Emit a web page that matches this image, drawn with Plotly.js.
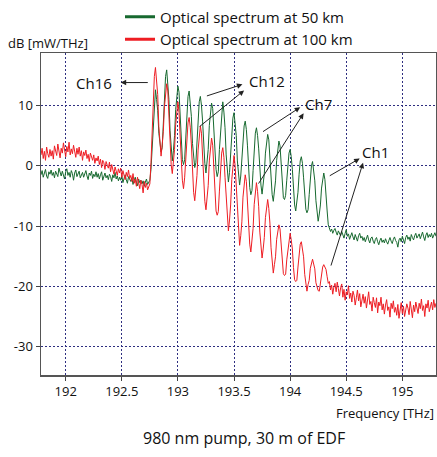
<!DOCTYPE html>
<html>
<head>
<meta charset="utf-8">
<script src="https://cdn.plot.ly/plotly-3.0.1.min.js"></script>
<style>
html,body{margin:0;padding:0;background:#fff;}
#chart{width:437px;height:457px;}
</style>
</head>
<body>
<div id="chart"></div>
<script>
// Frequency sampling of the spectra (THz)
const freqStart = 191.78;
const freqStep = 0.01;

// Optical spectrum at 50 km, dB [mW/THz], one value per freqStep from freqStart
const green50km = [
-1.5,-0.8,-1.9,-1.2,-0.6,-1.7,-2.1,-1.0,-1.4,-0.7,
-1.6,-1.1,-2.0,-0.9,-1.3,-1.8,-0.4,-1.2,-1.7,-0.9,
-1.4,-2.2,-1.0,-0.5,-1.6,-1.1,-1.9,-0.8,-1.3,-2.4,
-1.2,-0.7,-1.8,-1.4,-0.9,-2.0,-1.5,-1.1,-1.9,-1.3,
-0.8,-1.7,-2.3,-1.2,-1.6,-0.9,-2.1,-1.4,-1.8,-1.0,
-1.9,-1.3,-2.2,-1.5,-1.0,-2.4,-1.7,-1.2,-2.0,-1.6,
-2.3,-1.4,-1.8,-2.6,-1.5,-2.0,-1.1,-2.2,-1.7,-2.5,
-1.9,-2.4,-1.6,-2.8,-2.1,-1.5,-2.3,-2.9,-1.8,-2.2,
-2.6,-2.0,-3.1,-2.4,-1.9,-2.7,-3.3,-2.2,-2.8,-2.4,
-3.0,-2.5,-3.4,-2.7,-2.2,-3.1,-2.6,
-2.4,-0.6,3.1,7.0,11.3,12.6,11.0,9.2,5.4,3.3,
2.3,3.0,7.2,10.6,14.8,15.9,14.0,11.0,5.8,2.7,
0.8,2.5,5.0,9.3,11.8,13.2,12.2,8.2,4.9,1.0,
0.2,1.0,4.6,7.8,11.5,12.4,10.8,8.2,3.7,0.9,
-0.3,0.5,4.0,7.0,10.6,11.5,10.0,7.4,3.1,0.4,
-1.2,0.4,2.7,6.7,9.1,10.4,9.5,5.8,2.6,-0.6,
-1.8,-1.0,2.7,5.8,9.5,10.6,8.9,6.3,1.8,-1.0,
-2.7,-1.1,1.8,4.5,7.9,8.8,7.3,5.0,0.8,-1.6,
-3.2,-1.7,0.9,3.5,6.6,7.4,6.0,3.3,-0.9,-3.6,
-4.8,-4.1,-0.8,2.0,5.4,6.3,5.0,2.8,-1.0,-3.2,
-4.7,-3.3,-1.3,2.1,4.0,5.2,4.3,1.1,-1.7,-4.8,
-5.9,-4.5,-2.5,0.9,2.9,4.1,3.3,0.4,-1.9,-5.3,
-5.6,-4.9,-2.4,-0.4,2.1,2.7,1.5,-0.6,-4.0,-6.5,
-7.5,-6.2,-4.4,-1.4,0.8,1.5,0.4,-2.0,-4.5,-7.2,
-7.8,-7.3,-4.8,-2.5,0.0,0.7,-0.5,-2.5,-5.8,-8.2,
-9.2,-8.0,-6.5,-3.7,-2.2,-1.2,-2.3,-4.3,-7.5,-9.8,
-10.3,-10.9,-10.5,-11.2,-10.7,-10.4,-11.0,-11.5,-10.8,-11.3,
-11.6,-10.9,-11.4,-12.0,-11.2,-10.6,-11.7,-11.3,-12.2,-11.5,
-11.1,-11.8,-12.3,-11.4,-11.9,-12.5,-11.6,-11.2,-12.0,-11.7,
-12.4,-11.9,-12.6,-12.1,-11.5,-12.3,-12.8,-12.0,-11.8,-12.5,
-12.9,-12.2,-11.9,-12.6,-13.1,-12.4,-12.0,-12.7,-12.3,-12.8,
-12.1,-12.6,-13.0,-12.4,-11.9,-12.5,-12.9,-12.2,-11.8,-12.4,
-12.7,-13.5,-12.3,-12.0,-12.6,-11.7,-12.2,-12.9,-11.9,-11.5,
-12.2,-11.8,-12.5,-11.4,-11.9,-12.3,-11.6,-11.2,-12.0,-11.7,
-11.3,-12.1,-11.6,-11.0,-11.8,-12.4,-11.5,-11.1,-11.9,-11.4,
-11.8,-11.2,-12.0,-11.5,-11.1,-11.7
];

// Optical spectrum at 100 km, dB [mW/THz]
const red100km = [
1.8,2.9,1.2,2.4,0.9,3.1,2.0,1.4,2.7,1.6,
2.5,1.1,3.3,2.2,1.7,3.6,2.4,1.3,2.9,2.1,
3.8,2.6,1.5,3.2,2.3,3.9,1.8,2.8,2.0,3.4,
2.2,1.4,2.9,1.9,3.1,1.6,2.5,0.9,2.3,1.7,
2.6,1.2,1.9,0.7,2.1,1.5,0.9,1.8,0.4,1.3,
0.8,1.6,0.2,1.1,-0.3,0.9,0.5,-0.6,0.7,0.1,
-0.4,0.6,-1.0,0.2,-0.7,-1.4,-0.2,-0.9,-1.6,-0.5,
-1.2,-0.4,-1.9,-0.8,-1.5,-2.3,-1.1,-1.8,-0.7,-2.1,
-1.6,-2.6,-1.3,-2.9,-2.2,-3.4,-1.9,-2.7,-3.8,-2.4,
-3.1,-4.5,-2.6,-3.6,-2.9,-4.0,-3.3,
-3.0,0.5,5.8,9.0,14.8,16.3,14.2,11.8,6.5,3.8,
1.6,3.5,5.7,9.8,12.0,13.6,12.4,8.0,4.4,0.2,
-1.3,0.4,2.7,6.8,9.1,10.6,8.8,5.9,1.1,-2.4,
-3.8,-2.0,0.8,3.7,7.1,8.0,6.4,3.6,-1.1,-4.4,
-5.8,-4.0,-1.6,2.6,5.0,6.6,5.4,1.5,-2.0,-5.9,
-7.3,-5.5,-3.3,0.8,3.1,4.6,3.4,-0.3,-3.7,-7.5,
-8.2,-7.6,-4.2,-1.3,2.1,3.0,1.4,-1.9,-5.5,-9.4,
-10.8,-9.0,-6.5,-2.3,0.7,1.7,0.0,-3.7,-7.6,-11.8,
-13.2,-11.6,-9.3,-5.2,-2.9,-1.5,-2.6,-6.2,-9.3,-13.0,
-14.3,-12.6,-10.4,-6.4,-4.1,-2.8,-4.3,-6.8,-11.0,-13.6,
-15.3,-13.8,-11.9,-8.6,-6.8,-5.6,-7.1,-9.5,-13.6,-16.1,
-17.8,-16.4,-15.1,-12.2,-10.9,-9.8,-10.5,-13.1,-15.2,-17.9,
-18.2,-18.0,-15.6,-14.1,-11.7,-11.2,-12.3,-13.8,-16.9,-18.9,
-19.2,-19.0,-16.8,-15.3,-13.0,-12.6,-13.7,-15.1,-18.0,-19.9,
-20.8,-19.7,-19.0,-17.0,-16.3,-15.5,-16.3,-17.1,-19.4,-20.2,
-20.7,-20.8,-19.1,-18.4,-16.8,-16.4,-17.0,-17.2,-18.4,-19.5,
-19.2,-20.6,-19.8,-21.3,-20.1,-19.5,-20.9,-19.3,-20.4,-21.6,
-20.2,-19.6,-21.8,-20.5,-22.3,-20.9,-21.4,-19.9,-22.0,-21.1,
-22.6,-20.8,-21.5,-23.1,-21.9,-20.6,-22.4,-21.2,-23.4,-22.0,
-21.3,-22.8,-21.7,-23.6,-22.2,-20.9,-23.0,-22.5,-24.1,-21.8,
-22.7,-23.5,-21.9,-24.4,-22.6,-23.2,-21.8,-23.9,-22.9,-24.6,
-23.1,-22.2,-24.0,-23.4,-25.1,-22.8,-23.7,-22.4,-24.3,-23.5,
-24.8,-23.0,-25.3,-23.9,-22.7,-24.5,-23.3,-25.0,-24.1,-22.9,
-23.6,-24.7,-22.5,-23.8,-25.2,-23.1,-24.2,-22.6,-23.9,-24.5,
-22.8,-23.7,-22.1,-24.0,-23.2,-25.0,-22.9,-23.6,-22.3,-24.2,
-23.4,-22.6,-23.9,-22.2,-23.5,-22.8
];

const seriesNames = ["Optical spectrum at 50 km", "Optical spectrum at 100 km"];
const xTickVals = [192, 192.5, 193, 193.5, 194, 194.5, 195];
const xTickText = ["192", "192.5", "193", "193.5", "194", "194.5", "195"];
const yTickVals = [-30, -20, -10, 0, 10];
const yTickText = ["-30", "-20", "-10", "0", "10"];

// Channel labels: [label, text freq, text dB]
const chLabels = [
  ["Ch16", 192.255, 13.8],
  ["Ch12", 193.79, 14.0],
  ["Ch7", 194.25, 10.3],
  ["Ch1", 194.76, 2.2]
];
// Arrows: [tail freq, tail dB, head freq, head dB]
const chArrows = [
  [192.745, 13.8, 192.49, 13.8],
  [193.245, 11.5, 193.575, 13.5],
  [193.18, 6.3, 193.59, 12.5],
  [193.745, 5.5, 194.09, 9.7],
  [193.71, -3.2, 194.12, 8.7],
  [194.34, -1.8, 194.62, 1.2],
  [194.36, -16.8, 194.65, 0.5]
];

const GREEN = "#17692f";
const RED = "#ee1d23";
const FONT = "Open Sans, Noto Sans, sans-serif";

const traces = [
  {type: "scatter", mode: "lines", x0: freqStart, dx: freqStep, y: green50km,
   line: {color: GREEN, width: 1}, showlegend: false, hoverinfo: "skip"},
  {type: "scatter", mode: "lines", x0: freqStart, dx: freqStep, y: red100km,
   line: {color: RED, width: 1}, showlegend: false, hoverinfo: "skip"},
  {type: "scatter", mode: "lines", x: [null], y: [null], name: seriesNames[0],
   line: {color: GREEN, width: 3}, showlegend: true},
  {type: "scatter", mode: "lines", x: [null], y: [null], name: seriesNames[1],
   line: {color: RED, width: 3}, showlegend: true}
];

const annotations = [];
chLabels.forEach(c => annotations.push({
  x: c[1], y: c[2], xref: "x", yref: "y", text: c[0], showarrow: false,
  font: {family: FONT, size: 15, color: "#111"}
}));
chArrows.forEach(a => annotations.push({
  x: a[2], y: a[3], ax: a[0], ay: a[1], xref: "x", yref: "y", axref: "x", ayref: "y",
  text: "", showarrow: true, arrowhead: 2, arrowsize: 1.1, arrowwidth: 1, arrowcolor: "#222"
}));
annotations.push({
  xref: "paper", yref: "paper", x: -0.088, y: 1.031, xanchor: "left", yanchor: "middle",
  text: "dB [mW/THz]", showarrow: false, font: {family: FONT, size: 13, color: "#111"}
});
annotations.push({
  xref: "paper", yref: "paper", x: 1.0, y: -0.118, xanchor: "right", yanchor: "middle",
  text: "Frequency [THz]", showarrow: false, font: {family: FONT, size: 13, color: "#111"}
});
annotations.push({
  xref: "paper", yref: "paper", x: 0.513, y: -0.196, xanchor: "center", yanchor: "middle",
  text: "980 nm pump, 30 m of EDF", showarrow: false, font: {family: FONT, size: 16, color: "#111"}
});

const layout = {
  width: 437, height: 457,
  margin: {l: 41, r: 1, t: 53, b: 82, pad: 0},
  paper_bgcolor: "#fff", plot_bgcolor: "#fff",
  font: {family: FONT, size: 13, color: "#111"},
  showlegend: true,
  legend: {x: 0.2, y: 1.163, xanchor: "left", yanchor: "top", bgcolor: "rgba(0,0,0,0)",
           font: {family: FONT, size: 15, color: "#111"}, itemwidth: 30, tracegroupgap: 0},
  xaxis: {range: [191.78, 195.30], tickvals: xTickVals, ticktext: xTickText,
          ticks: "outside", ticklen: 4, tickcolor: "#444", showgrid: true,
          gridcolor: "#2e2e80", gridwidth: 1, griddash: "2px,2px",
          showline: true, linecolor: "#555", linewidth: 1.5, mirror: true, zeroline: false,
          tickfont: {family: FONT, size: 13, color: "#111"}},
  yaxis: {range: [-34.7, 18.7], tickvals: yTickVals, ticktext: yTickText,
          ticks: "outside", ticklen: 4, tickcolor: "#444", showgrid: true,
          gridcolor: "#2e2e80", gridwidth: 1, griddash: "2px,2px",
          showline: true, linecolor: "#555", linewidth: 1.5, mirror: true, zeroline: false,
          tickfont: {family: FONT, size: 13, color: "#111"}},
  annotations: annotations
};

Plotly.newPlot("chart", traces, layout, {staticPlot: true, displayModeBar: false});
</script>
</body>
</html>
